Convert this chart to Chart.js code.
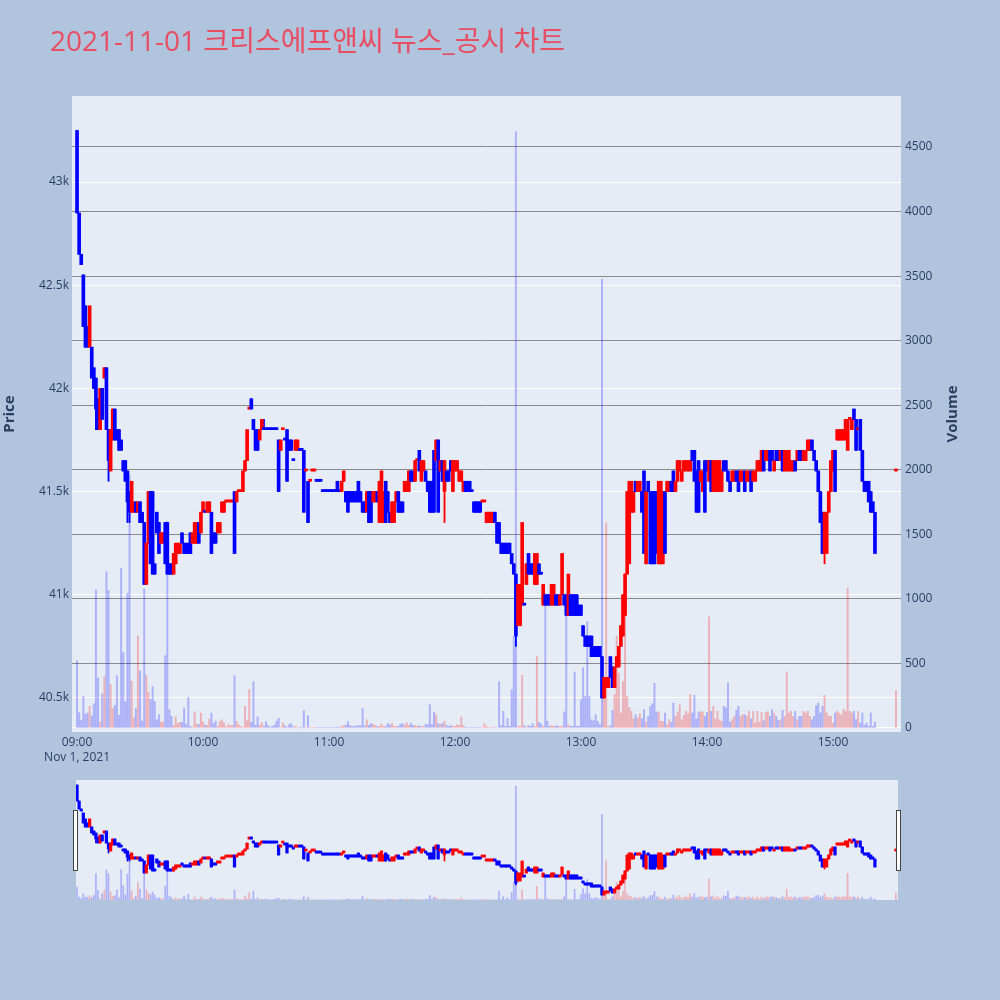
<!DOCTYPE html>
<html lang="ko">
<head>
<meta charset="UTF-8">
<title>2021-11-01 크리스에프앤씨 뉴스_공시 차트</title>
<script src="https://cdn.jsdelivr.net/npm/chart.js"></script>
<style>
  html, body { margin: 0; padding: 0; background: #b0c4de; }
  body { width: 1000px; height: 1000px; position: relative; overflow: hidden; }
  #main { position: absolute; left: 0; top: 0; }
  #slider { position: absolute; left: 0; top: 776px; }
  #title { position: absolute; left: 50px; top: 23px; font-size: 28px; line-height: 34px;
           font-family: "Open Sans", "Noto Sans CJK KR", sans-serif; color: #e84d61; white-space: nowrap; }
</style>
</head>
<body>
<canvas id="main" width="1000" height="770"></canvas>
<canvas id="slider" width="1000" height="130"></canvas>
<div id="title">2021-11-01 크리스에프앤씨 뉴스_공시 차트</div>

<script>
// 1분봉 (09:00 부터 1분 간격), 값은 그림에서 읽은 추정치
const opens = [
  43250,42850,42650,42550,42400,42300,42200,42200,42100,42050,
  41950,41800,42000,42050,42100,41800,41600,41750,41900,41800,
  41800,41750,41650,41650,41600,41500,41400,41400,41450,41400,
  41450,41400,41350,41050,41250,41500,41500,41150,41400,41350,
  41250,41250,41350,41350,41150,41150,41100,41150,41200,41200,
  41300,41250,41250,41250,41300,41250,41250,41250,41350,41300,
  41400,41400,41400,41400,41400,41300,41300,41300,41300,41400,
  41400,41450,41450,41450,41450,41500,41450,41500,41500,41500,
  41600,41650,41900,41950,41850,41800,41800,41750,41800,41800,
  41800,41800,41800,41800,41800,41800,41750,41700,41800,41750,
  41800,41750,41750,41650,41700,41700,41700,41700,41700,41600,
  41550,41550,41600,41600,41550,41550,41550,41500,41500,41500,
  41500,41500,41500,41500,41550,41500,41500,41550,41500,41500,
  41500,41500,41500,41500,41550,41500,41450,41450,41400,41500,
  41500,41450,41450,41500,41350,41350,41350,41550,41500,41400,
  41350,41350,41450,41500,41450,41450,41500,41500,41500,41600,
  41600,41550,41650,41700,41550,41600,41600,41550,41550,41550,
  41700,41650,41750,41600,41650,41500,41600,41600,41650,41500,
  41600,41600,41550,41550,41500,41550,41550,41550,41500,41450,
  41450,41450,41450,41450,41450,41350,41350,41350,41350,41400,
  41350,41350,41250,41250,41250,41250,41250,41200,41150,41100,
  40850,40850,40950,40950,41050,41200,41150,41150,41050,41050,
  41150,41100,40950,41000,41000,41000,40950,40950,41000,41000,
  40950,41000,41000,41000,40900,41000,41000,41000,41000,40950,
  40950,40850,40800,40800,40800,40800,40750,40750,40750,40750,
  40700,40500,40550,40550,40700,40650,40550,40650,40650,40750,
  40800,40900,41100,41150,41400,41400,41550,41500,41500,41500,
  41600,41150,41550,41500,41500,41500,41500,41150,41150,41150,
  41500,41500,41500,41550,41600,41500,41550,41600,41550,41600,
  41600,41600,41600,41700,41700,41600,41650,41550,41500,41650,
  41650,41550,41650,41500,41500,41500,41500,41500,41650,41650,
  41600,41550,41550,41550,41600,41600,41550,41550,41600,41550,
  41550,41600,41550,41550,41600,41600,41600,41700,41650,41650,
  41700,41700,41600,41700,41700,41650,41700,41600,41600,41600,
  41600,41600,41650,41650,41700,41700,41650,41650,41700,41700,
  41750,41700,41650,41600,41500,41400,41200,41200,41400,41500,
  41600,41700,41750,41750,41750,41750,41750,41700,41850,41800,
  41900,41850,41800,41850,41700,41550,41550,41550,41500,41450,
  41400,null,null,null,null,null,null,null,null,null,
  41600
];
const highs = [
  43250,42850,42650,42550,42400,42300,42400,42200,42100,42050,
  41950,42000,42000,42100,42100,41800,41800,41900,41900,41800,
  41800,41750,41650,41650,41600,41500,41550,41450,41450,41450,
  41450,41400,41350,41250,41500,41500,41500,41150,41400,41350,
  41300,41300,41350,41350,41150,41150,41200,41250,41250,41250,
  41300,41250,41250,41250,41300,41300,41350,41350,41350,41400,
  41450,41400,41450,41450,41400,41300,41300,41350,41350,41450,
  41450,41450,41450,41450,41450,41500,41500,41500,41500,41600,
  41650,41800,41900,41950,41850,41800,41800,41800,41850,41850,
  41800,41800,41800,41800,41800,41800,41750,41750,41800,41750,
  41800,41750,41750,41650,41750,41750,41700,41700,41700,41600,
  41550,41550,41600,41600,41550,41550,41550,41500,41500,41500,
  41500,41500,41500,41500,41550,41500,41550,41600,41500,41500,
  41500,41500,41500,41500,41550,41500,41450,41450,41500,41500,
  41500,41500,41500,41500,41550,41600,41500,41550,41500,41400,
  41450,41450,41500,41500,41450,41450,41550,41550,41600,41600,
  41600,41650,41650,41700,41650,41650,41600,41550,41550,41550,
  41700,41750,41750,41650,41650,41650,41600,41600,41650,41650,
  41650,41650,41600,41600,41550,41550,41550,41550,41500,41450,
  41450,41450,41450,41450,41450,41400,41400,41400,41400,41400,
  41350,41350,41250,41250,41250,41250,41250,41200,41150,41100,
  41050,41050,41350,40950,41150,41200,41150,41150,41200,41200,
  41150,41100,41050,41000,41000,41000,41050,41050,41000,41000,
  41000,41200,41000,41000,41100,41000,41000,41000,41000,40950,
  40950,40850,40800,40800,40800,40800,40750,40750,40750,40750,
  40700,40600,40600,40600,40700,40650,40650,40700,40750,40850,
  41000,41100,41500,41550,41550,41500,41550,41550,41550,41500,
  41600,41500,41550,41500,41500,41500,41500,41550,41550,41500,
  41500,41550,41550,41550,41600,41550,41650,41650,41600,41650,
  41650,41650,41650,41700,41700,41600,41650,41600,41600,41650,
  41650,41650,41650,41650,41650,41650,41650,41600,41650,41650,
  41600,41550,41600,41600,41600,41600,41600,41600,41600,41600,
  41600,41600,41600,41600,41650,41650,41700,41700,41700,41700,
  41700,41700,41650,41700,41700,41700,41700,41700,41700,41700,
  41650,41650,41650,41700,41700,41700,41700,41700,41750,41750,
  41750,41700,41650,41600,41500,41400,41400,41400,41500,41650,
  41700,41700,41800,41800,41800,41800,41850,41850,41850,41850,
  41900,41850,41800,41850,41700,41550,41550,41550,41500,41450,
  41400,null,null,null,null,null,null,null,null,null,
  41600
];
const lows = [
  42850,42650,42600,42300,42200,42200,42200,42050,42000,41800,
  41800,41800,41850,42050,41800,41550,41600,41750,41750,41750,
  41700,41700,41600,41550,41350,41350,41400,41400,41400,41400,
  41350,41350,41050,41050,41250,41150,41100,41100,41300,41200,
  41250,41250,41150,41100,41100,41100,41100,41150,41200,41200,
  41250,41200,41200,41200,41200,41250,41250,41250,41250,41300,
  41400,41400,41400,41400,41200,41250,41250,41300,41300,41400,
  41400,41450,41450,41450,41450,41200,41450,41500,41500,41500,
  41600,41650,41900,41900,41800,41700,41700,41750,41800,41800,
  41800,41800,41800,41800,41800,41800,41500,41700,41800,41750,
  41550,41700,41700,41650,41700,41700,41700,41700,41400,41600,
  41350,41550,41600,41600,41550,41550,41550,41500,41500,41500,
  41500,41500,41500,41500,41500,41500,41500,41550,41450,41400,
  41450,41450,41450,41450,41450,41450,41400,41400,41400,41350,
  41350,41450,41450,41450,41350,41350,41350,41350,41400,41350,
  41350,41350,41450,41400,41400,41400,41500,41500,41500,41550,
  41550,41550,41650,41600,41550,41600,41550,41500,41400,41400,
  41400,41650,41400,41600,41550,41350,41550,41550,41600,41500,
  41600,41600,41550,41550,41500,41500,41500,41500,41500,41400,
  41400,41400,41400,41450,41450,41350,41350,41350,41350,41350,
  41250,41250,41200,41200,41200,41200,41200,41150,41100,40750,
  40850,40850,40950,40950,41050,41100,41100,41100,41050,41050,
  41100,41100,40950,40950,40950,40950,40950,40950,40950,40950,
  40950,41000,40950,40900,40900,40900,40900,40900,40900,40900,
  40900,40800,40750,40750,40750,40700,40700,40700,40700,40700,
  40500,40500,40550,40550,40600,40550,40550,40650,40650,40750,
  40800,40900,41100,41150,41400,41400,41500,41500,41500,41400,
  41200,41150,41500,41150,41150,41150,41200,41150,41150,41150,
  41200,41500,41500,41500,41500,41500,41550,41600,41550,41600,
  41600,41600,41600,41650,41550,41400,41400,41550,41500,41400,
  41600,41550,41500,41500,41500,41500,41500,41500,41600,41600,
  41550,41500,41550,41550,41550,41500,41550,41550,41500,41550,
  41550,41500,41550,41550,41600,41600,41600,41600,41650,41650,
  41600,41650,41600,41650,41650,41650,41600,41600,41600,41600,
  41600,41600,41600,41650,41650,41650,41650,41650,41700,41700,
  41700,41650,41600,41500,41350,41200,41150,41200,41400,41500,
  41600,41500,41750,41750,41750,41750,41750,41700,41850,41800,
  41850,41700,41800,41700,41550,41500,41500,41450,41400,41400,
  41200,null,null,null,null,null,null,null,null,null,
  41600
];
const closes = [
  42850,42650,42600,42300,42200,42200,42400,42050,42000,41900,
  41800,42000,41850,42100,41800,41650,41800,41900,41750,41750,
  41700,41700,41600,41550,41450,41400,41550,41450,41400,41450,
  41350,41350,41050,41250,41500,41150,41100,41100,41300,41200,
  41300,41300,41150,41100,41100,41100,41200,41250,41250,41250,
  41250,41200,41200,41200,41200,41300,41350,41350,41250,41400,
  41450,41400,41450,41450,41200,41250,41250,41350,41350,41450,
  41450,41450,41450,41450,41450,41200,41500,41500,41500,41600,
  41650,41800,41900,41900,41800,41700,41700,41800,41850,41800,
  41800,41800,41800,41800,41800,41800,41500,41750,41800,41750,
  41550,41700,41700,41650,41750,41750,41700,41700,41400,41600,
  41350,41550,41600,41600,41550,41550,41550,41500,41500,41500,
  41500,41500,41500,41500,41500,41500,41550,41600,41450,41400,
  41450,41450,41450,41450,41450,41450,41400,41400,41500,41350,
  41350,41500,41500,41450,41550,41600,41500,41350,41400,41350,
  41450,41450,41500,41400,41400,41400,41550,41550,41600,41550,
  41550,41650,41650,41600,41650,41650,41550,41500,41400,41400,
  41400,41750,41400,41650,41550,41650,41550,41550,41600,41650,
  41650,41650,41600,41600,41550,41500,41500,41500,41500,41400,
  41400,41400,41400,41450,41450,41400,41400,41400,41400,41350,
  41250,41250,41200,41200,41200,41200,41200,41150,41100,40800,
  41050,41050,41350,40950,41150,41100,41100,41100,41200,41200,
  41100,41100,41050,40950,40950,40950,41050,41050,40950,40950,
  41000,41200,40950,40900,41100,40900,40900,40900,40900,40900,
  40900,40800,40750,40750,40750,40700,40700,40700,40700,40700,
  40500,40600,40600,40600,40600,40550,40650,40700,40750,40850,
  41000,41100,41500,41550,41550,41500,41500,41550,41550,41400,
  41200,41500,41500,41150,41150,41150,41200,41550,41550,41500,
  41200,41550,41550,41500,41500,41550,41650,41650,41600,41650,
  41650,41650,41650,41650,41550,41400,41400,41600,41600,41400,
  41600,41650,41500,41650,41650,41650,41650,41600,41600,41600,
  41550,41500,41600,41600,41550,41500,41600,41600,41500,41600,
  41600,41500,41600,41600,41650,41650,41700,41600,41700,41700,
  41600,41650,41650,41650,41650,41700,41600,41700,41700,41700,
  41650,41650,41600,41700,41650,41650,41700,41700,41750,41750,
  41700,41650,41600,41500,41350,41200,41400,41400,41500,41650,
  41700,41500,41800,41800,41800,41800,41850,41850,41850,41850,
  41850,41700,41800,41700,41550,41500,41500,41450,41400,41400,
  41200,null,null,null,null,null,null,null,null,null,
  41600
];
const volumes = [
  520,118,60,245,108,116,168,95,188,1068,
  387,46,263,397,1210,1065,335,151,174,405,
  98,1236,583,205,1042,1960,364,77,150,712,
  441,54,1078,407,275,221,320,205,64,103,
  46,46,560,1600,142,90,18,85,34,44,
  44,155,28,237,13,8,126,28,28,116,
  49,21,21,70,116,34,54,13,49,64,
  39,8,26,21,21,405,52,28,13,5,
  168,57,297,44,359,21,85,21,41,13,
  49,18,8,13,21,52,75,3,41,18,
  8,26,34,8,13,5,2,2,134,3,
  95,3,5,3,2,3,3,4,2,3,
  5,3,4,3,8,5,13,18,21,49,
  18,13,13,18,18,18,150,18,64,21,
  34,28,18,13,13,31,13,13,34,23,
  34,13,13,13,28,34,20,41,20,36,
  20,18,13,18,13,13,28,26,181,26,
  121,101,34,28,34,52,20,13,20,13,
  13,26,20,85,20,8,4,3,3,4,
  5,3,4,3,34,13,5,4,3,5,
  4,359,18,129,13,75,13,297,709,4620,
  13,13,411,18,8,18,13,34,13,555,
  44,31,13,1040,52,13,18,13,18,13,
  13,13,124,1000,23,13,13,434,13,13,
  219,467,245,825,245,64,57,103,52,26,
  3475,233,1590,13,18,137,260,712,425,116,
  359,1200,245,160,129,72,103,77,111,72,
  142,46,90,168,188,346,124,124,52,52,
  116,26,64,44,193,90,121,181,64,98,
  129,111,260,116,253,70,124,126,124,90,
  121,861,129,168,70,129,64,52,168,155,
  349,46,64,90,137,168,90,103,103,90,
  129,70,129,39,129,46,121,57,121,129,
  90,142,116,90,59,64,137,90,434,116,
  129,90,129,64,90,90,129,116,129,90,
  64,90,174,193,116,168,253,116,90,90,
  39,116,129,116,103,147,129,1083,129,116,
  129,64,129,39,116,21,39,13,116,13,
  46,null,null,null,null,null,null,null,null,null,
  290
];

const timeTicks = [0, 60, 120, 180, 240, 300, 360];
const timeLabels = ['09:00', '10:00', '11:00', '12:00', '13:00', '14:00', '15:00'];
const dateLabel = 'Nov 1, 2021';
const priceTicks = [40500, 41000, 41500, 42000, 42500, 43000];
const volumeTicks = [0, 500, 1000, 1500, 2000, 2500, 3000, 3500, 4000, 4500];

const UP = '#ff0000';
const DOWN = '#0000ff';

// 양봉/음봉 판정 (시가=종가면 직전 종가와 비교)
const rising = [];
let prevUp = false, prevClose = null;
for (let i = 0; i < closes.length; i++) {
  if (closes[i] == null) { rising.push(null); continue; }
  let up;
  if (closes[i] !== opens[i]) up = closes[i] > opens[i];
  else if (prevClose != null && closes[i] !== prevClose) up = closes[i] > prevClose;
  else up = prevUp;
  rising.push(up);
  prevUp = up;
  prevClose = closes[i];
}

const idx = [];
for (let i = 0; i < closes.length; i++) if (closes[i] != null) idx.push(i);

const wickData = idx.map(i => ({ x: i, y: [lows[i], highs[i]] }));
const bodyData = idx.map(i => ({ x: i, y: [Math.min(opens[i], closes[i]), Math.max(opens[i], closes[i])] }));
const volData = idx.map(i => ({ x: i, y: volumes[i] }));
const candleColors = idx.map(i => rising[i] ? UP : DOWN);
const volColors = idx.map(i => rising[i] ? 'rgba(255,0,0,0.25)' : 'rgba(0,0,255,0.25)');

Chart.defaults.font.family = '"Open Sans", sans-serif';
Chart.defaults.color = '#2a3f5f';

const plotBg = {
  id: 'plotBg',
  beforeDraw(chart) {
    const { ctx, chartArea: a } = chart;
    ctx.save();
    ctx.fillStyle = '#e5ecf6';
    ctx.fillRect(a.left, a.top, a.right - a.left, a.bottom - a.top);
    ctx.restore();
  }
};

const axisTitles = {
  id: 'axisTitles',
  afterDraw(chart) {
    const ctx = chart.ctx;
    ctx.save();
    ctx.fillStyle = '#2a3f5f';
    ctx.font = 'bold 15px "Open Sans", sans-serif';
    ctx.textAlign = 'center';
    ctx.textBaseline = 'middle';
    [['Price', 10], ['Volume', 953]].forEach(([t, x]) => {
      ctx.save();
      ctx.translate(x, 414);
      ctx.rotate(-Math.PI / 2);
      ctx.fillText(t, 0, 0);
      ctx.restore();
    });
    ctx.restore();
  }
};

function datasets(bodyW, wickW, volW) {
  return [
    { data: bodyData, backgroundColor: candleColors, yAxisID: 'y', order: 1,
      barThickness: bodyW, minBarLength: 2, grouped: false },
    { data: wickData, backgroundColor: candleColors, yAxisID: 'y', order: 2,
      barThickness: wickW, grouped: false },
    { data: volData, backgroundColor: volColors, yAxisID: 'y2', order: 3,
      barThickness: volW, grouped: false }
  ];
}

new Chart(document.getElementById('main'), {
  type: 'bar',
  data: { datasets: datasets(3, 1.2, 1.3) },
  options: {
    responsive: false,
    animation: false,
    devicePixelRatio: 1,
    layout: { padding: { top: 96, left: 0, right: 0, bottom: 0 } },
    plugins: { legend: { display: false }, tooltip: { enabled: false } },
    scales: {
      x: {
        type: 'linear', min: -2.4, max: 392.4, offset: false,
        grid: { display: false, drawTicks: false }, border: { display: false },
        afterBuildTicks: s => { s.ticks = timeTicks.map(v => ({ value: v })); },
        afterFit: s => { s.height = 38; },
        ticks: {
          padding: 3, maxRotation: 0, autoSkip: false, font: { size: 12, lineHeight: 1.25 },
          callback: (v) => {
            const k = timeTicks.indexOf(v);
            return k === 0 ? [timeLabels[0], dateLabel] : timeLabels[k];
          }
        }
      },
      y: {
        position: 'left', min: 40335, max: 43417,
        grid: { color: '#ffffff', lineWidth: 1, drawTicks: false }, border: { display: false },
        afterBuildTicks: s => { s.ticks = priceTicks.map(v => ({ value: v })); },
        afterFit: s => { s.width = 72; },
        ticks: { padding: 3, font: { size: 12 }, callback: v => (v / 1000) + 'k' }
      },
      y2: {
        position: 'right', min: -31, max: 4895,
        grid: { color: c => c.tick && c.tick.value === 0 ? '#ffffff' : '#8a8a8a', lineWidth: 1, drawTicks: false },
        border: { display: false },
        afterBuildTicks: s => { s.ticks = volumeTicks.map(v => ({ value: v })); },
        afterFit: s => { s.width = 99; },
        ticks: { padding: 4, font: { size: 12 }, callback: v => String(v) }
      }
    }
  },
  plugins: [plotBg, axisTitles]
});

// 하단 범위 슬라이더 (전체 구간 미니 차트)
const sliderHandles = {
  id: 'sliderHandles',
  afterDraw(chart) {
    const ctx = chart.ctx;
    ctx.save();
    ctx.fillStyle = '#ffffff';
    ctx.strokeStyle = '#444444';
    ctx.lineWidth = 1;
    [73.5, 896.5].forEach(x => {
      ctx.fillRect(x, 34.5, 4, 60);
      ctx.strokeRect(x, 34.5, 4, 60);
    });
    ctx.restore();
  }
};

new Chart(document.getElementById('slider'), {
  type: 'bar',
  data: { datasets: datasets(2.6, 1, 1) },
  options: {
    responsive: false,
    animation: false,
    devicePixelRatio: 1,
    layout: { padding: { top: 4, left: 76, right: 102, bottom: 6 } },
    plugins: { legend: { display: false }, tooltip: { enabled: false } },
    scales: {
      x: { type: 'linear', min: -0.48, max: 391, offset: false, display: false },
      y: { min: 40375, max: 43375, display: false },
      y2: { min: 0, max: 4863, display: false }
    }
  },
  plugins: [plotBg, sliderHandles]
});
</script>
</body>
</html>
